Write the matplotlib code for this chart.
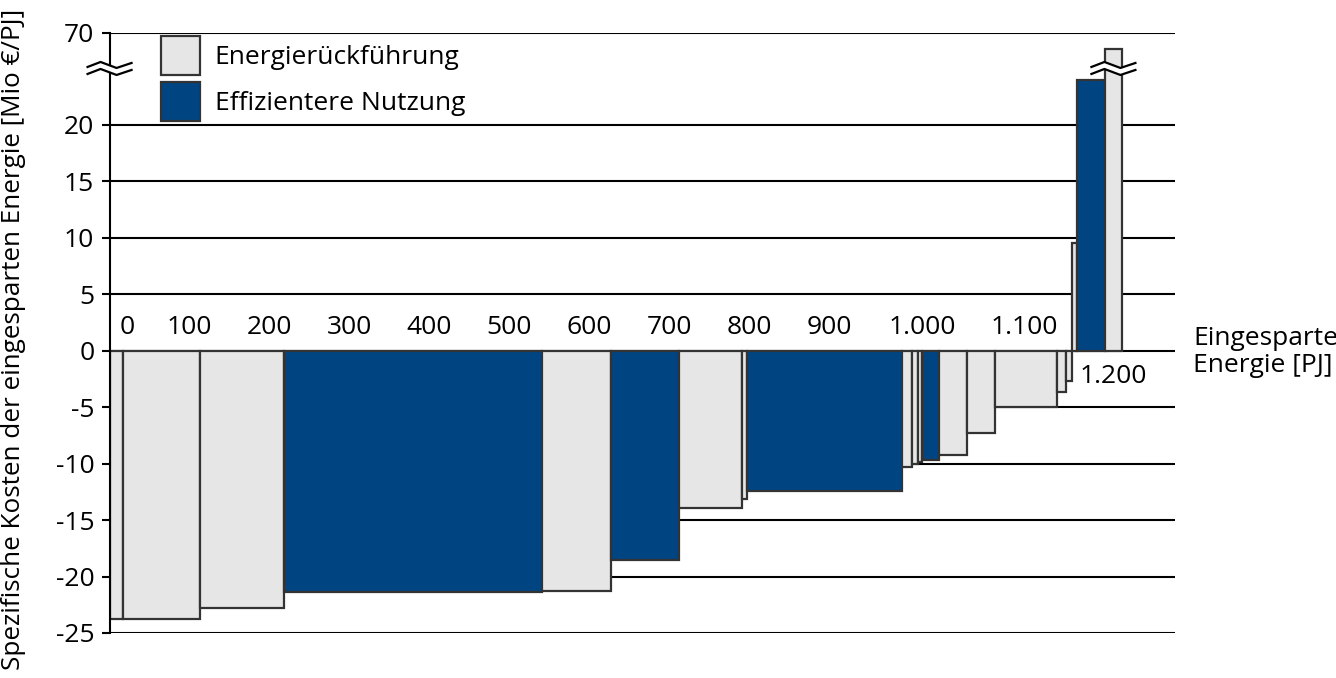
import numpy as np
import matplotlib
matplotlib.use("Agg")
import matplotlib.pyplot as plt
import matplotlib.transforms as mtransforms
from matplotlib.patches import Patch, Polygon

plt.rcParams['font.family'] = ['Open Sans', 'DejaVu Sans']

# savings per measure [PJ], specific cost [Mio EUR/PJ], type
widths = [17, 96, 105, 323, 86, 85, 79, 6, 194, 12, 8, 5, 21, 35, 35, 77, 12, 7, 6, 35, 22]
costs = [-23.8, -23.8, -22.8, -21.4, -21.3, -18.5, -13.9, -13.1, -12.4, -10.3, -10.0,
         -9.9, -9.7, -9.2, -7.3, -4.95, -3.7, -2.65, 9.5, 24.0, 49.0]
kinds = ['R', 'R', 'R', 'E', 'R', 'E', 'R', 'R', 'E', 'R', 'R',
         'R', 'E', 'R', 'R', 'R', 'R', 'R', 'R', 'E', 'R']

xtick_labels = ['0', '100', '200', '300', '400', '500', '600', '700', '800', '900',
                '1.000', '1.100', '1.200']
# where the labels sit along the axis (hand placed in the original)
xlabel_pos = [22, 100, 200, 300, 400, 500, 600, 700, 800, 900, 1016, 1143, 1255]
yticks = [-25, -20, -15, -10, -5, 0, 5, 10, 15, 20, 70]

colors = {'R': '#e6e6e6', 'E': '#004482'}
names = {'R': 'Energierückführung', 'E': 'Effizientere Nutzung'}
edge = '#333333'

# broken y axis: linear up to 25, compressed above
BRK = 25.0
K = 3.17 / 45.0


def fwd(y):
    y = np.asarray(y, dtype=float)
    return np.where(y <= BRK, y, BRK + (y - BRK) * K)


def inv(v):
    v = np.asarray(v, dtype=float)
    return np.where(v <= BRK, v, BRK + (v - BRK) / K)


fig = plt.figure(figsize=(13.36, 6.78), dpi=100)
ax = fig.add_axes([0.082, 0.0664, 0.7975, 0.8854])
ax.set_yscale('function', functions=(fwd, inv))

lefts = np.cumsum(widths) - np.array(widths)
ax.bar(lefts, costs, width=widths, align='edge',
       color=[colors[k] for k in kinds], edgecolor=edge, linewidth=1.6, zorder=3)

ax.set_xlim(0, 1332)
ax.set_ylim(-25, 70)
ax.set_yticks(yticks)
ax.set_yticklabels([str(t) for t in yticks], fontsize=19)
ax.set_xticks([])
ax.tick_params(axis='y', length=6, width=1.5, pad=5, color='black')
ax.yaxis.grid(True, color='black', linewidth=1.5)
ax.set_axisbelow(True)
for s in ['top', 'right', 'bottom']:
    ax.spines[s].set_visible(False)
ax.spines['left'].set_linewidth(1.5)
ax.spines['left'].set_zorder(4)

# x labels written along the zero line
for pos, lab in zip(xlabel_pos, xtick_labels):
    if lab == '1.200':
        ax.text(pos, -2.25, lab, ha='center', va='center', fontsize=19, zorder=5)
    else:
        ax.text(pos, 2.1, lab, ha='center', va='center', fontsize=19, zorder=5)

fig.text(1193 / 1336, 1 - 352 / 678, 'Eingesparte\nEnergie [PJ]', ha='left', va='center',
         fontsize=19, linespacing=1.15)
fig.text(14 / 1336, 0.5, 'Spezifische Kosten der eingesparten Energie [Mio €/PJ]',
         rotation=90, ha='center', va='center', fontsize=18.8)

handles = [Patch(facecolor=colors[k], edgecolor=edge, linewidth=1.6, label=names[k])
           for k in ['R', 'E']]
ax.legend(handles=handles, loc='upper left', bbox_to_anchor=(0.048, 0.995),
          frameon=False, fontsize=19, handlelength=1.48, handleheight=1.92,
          handletextpad=0.57, labelspacing=0.26, borderpad=0, borderaxespad=0)


def draw_break(x0, base_trans):
    tr = fig.dpi_scale_trans + mtransforms.ScaledTranslation(x0, BRK, base_trans)
    xs = np.array([-22, -9, 7, 22]) / 100.0
    ys = np.array([-2, 3, -3, 2]) / 100.0
    up = ys + 0.035
    lo = ys - 0.035
    poly = np.concatenate([np.column_stack([xs, up]), np.column_stack([xs[::-1], lo[::-1]])])
    ax.add_patch(Polygon(poly, closed=True, facecolor='white', edgecolor='none',
                         transform=tr, clip_on=False, zorder=6))
    ax.plot(xs, up, color='black', lw=1.6, transform=tr, clip_on=False, zorder=7)
    ax.plot(xs, lo, color='black', lw=1.6, transform=tr, clip_on=False, zorder=7)


draw_break(0, mtransforms.blended_transform_factory(ax.transAxes, ax.transData))
draw_break(lefts[-1] + widths[-1] / 2, ax.transData)

fig.savefig('out.png', dpi=100)
